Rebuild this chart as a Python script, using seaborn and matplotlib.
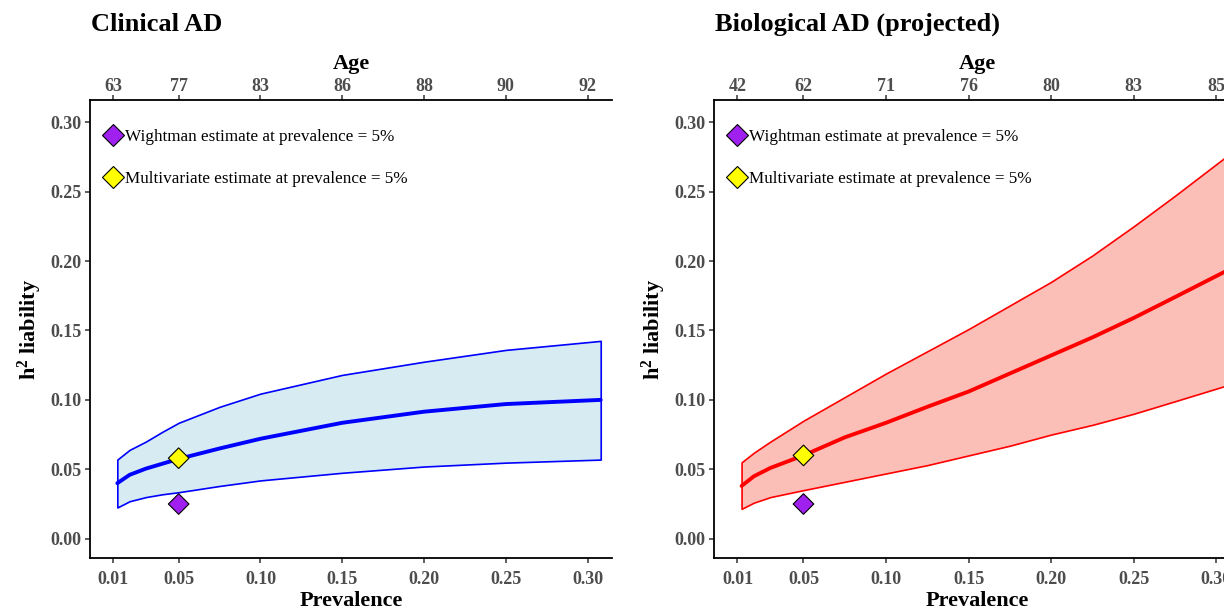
import numpy as np
import pandas as pd
import seaborn as sns
import matplotlib.pyplot as plt

# axis ticks (prevalence on the bottom, matching age on the top)
prev_ticks = [0.01, 0.05, 0.10, 0.15, 0.20, 0.25, 0.30]
prev_tick_labels = ['0.01', '0.05', '0.10', '0.15', '0.20', '0.25', '0.30']
age_clinical = ['63', '77', '83', '86', '88', '90', '92']
age_biological = ['42', '62', '71', '76', '80', '83', '85']
h2_ticks = [0.00, 0.05, 0.10, 0.15, 0.20, 0.25, 0.30]

# Clinical AD: h2 liability vs prevalence (estimate + band)
prev_clin = [0.0125, 0.02, 0.03, 0.04, 0.05, 0.075, 0.10, 0.15, 0.20, 0.25, 0.308]
h2_clin = [0.040, 0.046, 0.0505, 0.054, 0.0575, 0.065, 0.072, 0.0835, 0.0915, 0.097, 0.100]
h2_clin_hi = [0.057, 0.064, 0.070, 0.077, 0.0835, 0.095, 0.1045, 0.118, 0.1275, 0.136, 0.1425]
h2_clin_lo = [0.0225, 0.027, 0.030, 0.032, 0.0335, 0.038, 0.042, 0.0475, 0.052, 0.0548, 0.057]

# Biological AD (projected)
prev_bio = [0.0125, 0.02, 0.03, 0.05, 0.075, 0.10, 0.125, 0.15, 0.175, 0.20, 0.225, 0.25, 0.275, 0.308]
h2_bio = [0.038, 0.045, 0.051, 0.060, 0.073, 0.0835, 0.095, 0.106, 0.119, 0.132, 0.145, 0.159, 0.174, 0.194]
h2_bio_hi = [0.055, 0.062, 0.070, 0.085, 0.102, 0.119, 0.135, 0.151, 0.168, 0.185, 0.204, 0.225, 0.247, 0.277]
h2_bio_lo = [0.0215, 0.026, 0.030, 0.035, 0.041, 0.047, 0.053, 0.060, 0.067, 0.075, 0.082, 0.090, 0.099, 0.111]

# point estimates at prevalence = 5%
point_prev = 0.05
est_labels = ['Wightman estimate at prevalence = 5%', 'Multivariate estimate at prevalence = 5%']
est_clin = [0.025, 0.058]
est_bio = [0.025, 0.060]

sns.set_theme(style='white')
plt.rcParams['font.family'] = ['Liberation Serif', 'DejaVu Serif']
plt.rcParams['text.color'] = 'black'
plt.rcParams['axes.labelcolor'] = 'black'
plt.rcParams['mathtext.fontset'] = 'custom'
plt.rcParams['mathtext.bf'] = 'Liberation Serif:bold'
plt.rcParams['mathtext.rm'] = 'Liberation Serif:bold'
plt.rcParams['mathtext.default'] = 'bf'

W, H = 1224, 613
fig = plt.figure(figsize=(W / 100, H / 100), dpi=100)
ax1 = fig.add_axes([90 / W, (H - 558.3) / H, 522 / W, 458.3 / H])
ax2 = fig.add_axes([714 / W, (H - 558.3) / H, 526.8 / W, 458.3 / H])

TICK_GREY = '#4D4D4D'


def panel(ax, prev, mid, lo, hi, est, ages, line_col, fill_col, title):
    ax.fill_between(prev, lo, hi, facecolor=fill_col, edgecolor=line_col, linewidth=1.2, zorder=2)
    sns.lineplot(x=prev, y=mid, color=line_col, linewidth=2.8, ax=ax, zorder=3)
    pts = pd.DataFrame({'prev': [point_prev, point_prev], 'h2': est, 'est': est_labels})
    sns.scatterplot(data=pts, x='prev', y='h2', hue='est', hue_order=est_labels,
                    palette=['#A020F0', '#FFFF00'], marker='D', s=110,
                    edgecolor='black', linewidth=0.8, zorder=5, ax=ax)
    sns.move_legend(ax, 'upper left', bbox_to_anchor=(0.025, 0.937), title=None,
                    frameon=False, borderpad=0, borderaxespad=0, labelspacing=1.55,
                    handletextpad=0.15, handlelength=1.15, fontsize=12.3,
                    markerscale=1.05)

    ax.set_xlim(-0.0042, 0.3149)
    ax.set_ylim(-0.0141, 0.316)
    ax.set_xticks(prev_ticks, labels=prev_tick_labels)
    ax.set_yticks(h2_ticks, labels=['%.2f' % v for v in h2_ticks])
    ax.tick_params(axis='both', length=3.6, width=1.1, color='#333333',
                   labelcolor=TICK_GREY, labelsize=13,
                   bottom=True, left=True)
    ax.tick_params(axis='x', pad=5.5)
    ax.tick_params(axis='y', pad=2.7)
    for lab in ax.get_xticklabels() + ax.get_yticklabels():
        lab.set_fontweight('bold')
    for s in ['top', 'right']:
        ax.spines[s].set_visible(False)
    for s in ['left', 'bottom']:
        ax.spines[s].set_color('black')
        ax.spines[s].set_linewidth(1.3)
    ax.set_xlabel('Prevalence', fontsize=16, fontweight='bold', labelpad=2.5)
    ax.set_ylabel('h$^2$ liability', fontsize=16, fontweight='bold', labelpad=4)

    sec = ax.secondary_xaxis('top')
    sec.set_xticks(prev_ticks, labels=ages)
    sec.tick_params(axis='x', length=3.6, width=1.1, color='#333333',
                    labelcolor=TICK_GREY, labelsize=13, pad=0.3)
    for lab in sec.get_xticklabels():
        lab.set_fontweight('bold')
    sec.spines['top'].set_color('black')
    sec.spines['top'].set_linewidth(1.3)
    sec.set_xlabel('Age', fontsize=16, fontweight='bold', labelpad=6.4)

    x0 = ax.get_position().x0
    fig.text(x0 + 1 / W, 1 - 31 / H, title, fontsize=19, fontweight='bold',
             color='black', ha='left', va='baseline')


panel(ax1, prev_clin, h2_clin, h2_clin_lo, h2_clin_hi, est_clin, age_clinical,
      '#0000FF', '#D6EBF2', 'Clinical AD')
panel(ax2, prev_bio, h2_bio, h2_bio_lo, h2_bio_hi, est_bio, age_biological,
      '#FF0000', '#FCBFB8', 'Biological AD (projected)')

fig.savefig('out.png', dpi=100)
